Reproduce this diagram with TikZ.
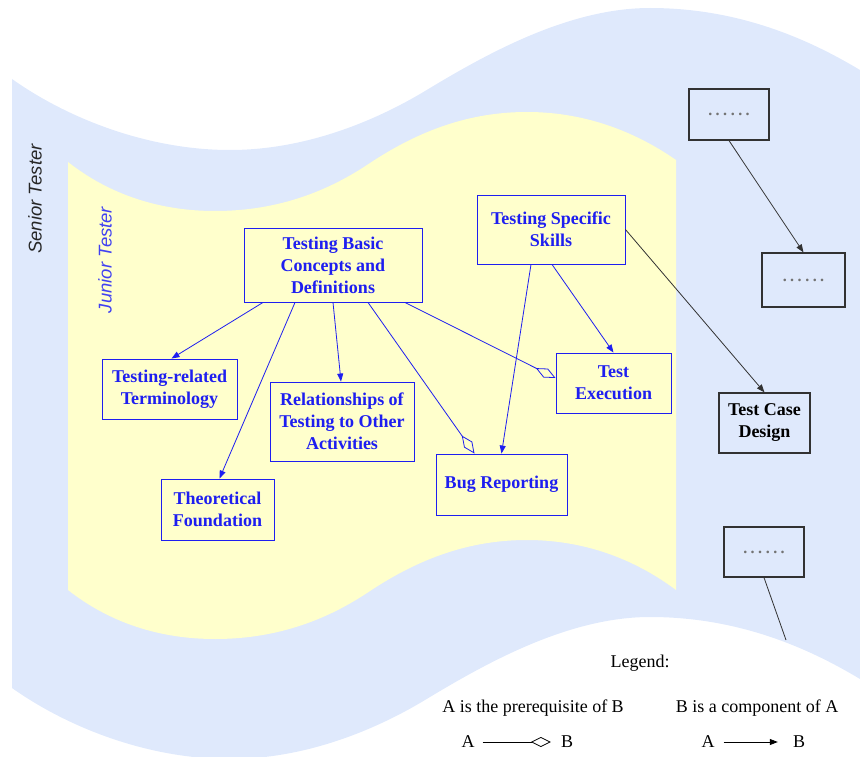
\documentclass[tikz,border=0pt]{standalone}
\usepackage{fontspec}
\setmainfont{Liberation Serif}
\setsansfont{Liberation Sans}
\usetikzlibrary{arrows.meta}
\definecolor{seniorbg}{RGB}{223,233,252}
\definecolor{juniorbg}{RGB}{255,255,204}
\definecolor{boxblue}{RGB}{30,30,240}
\definecolor{darkline}{RGB}{50,50,50}
\begin{document}
\begin{tikzpicture}[x=1pt,y=-1pt,
  bluebox/.style={draw=boxblue,line width=0.9pt,text=boxblue,font=\fontsize{18}{22}\selectfont\bfseries,align=center,inner sep=0pt},
  blackbox/.style={draw=darkline,line width=1.2pt,text=black,font=\fontsize{18}{22}\selectfont\bfseries,align=center,inner sep=0pt},
  dotbox/.style={draw=darkline,line width=1.2pt,text=black!55,font=\fontsize{16}{20}\selectfont\bfseries,inner sep=0pt},
  comp/.style={draw=boxblue,line width=0.8pt,-{Triangle[length=8pt,width=6pt]}},
  prereq/.style={draw=boxblue,line width=0.8pt,-{Diamond[open,length=22pt,width=10pt]}},
  blackcomp/.style={draw=darkline,line width=0.8pt,-{Triangle[length=8pt,width=6pt]}},
  legtext/.style={font=\fontsize{18}{22}\selectfont,inner sep=0pt}
]
\useasboundingbox (0,0) rectangle (860,757);
\clip (0,0) rectangle (860,757);
% Senior region
\fill[seniorbg] (12,79) .. controls (70,120) and (150,150) .. (230,150)
  .. controls (300,150) and (370,125) .. (430,88)
  .. controls (490,52) and (570,8) .. (650,8)
  .. controls (740,8) and (810,40) .. (860,70)
  -- (860,679)
  .. controls (810,649) and (740,617) .. (650,617)
  .. controls (570,617) and (490,661) .. (430,697)
  .. controls (370,734) and (300,759) .. (230,759)
  .. controls (150,759) and (70,729) .. (12,688) -- cycle;
% Junior region
\fill[juniorbg] (68,162) .. controls (110,195) and (160,211) .. (215,211)
  .. controls (280,211) and (330,190) .. (370,163)
  .. controls (420,130) and (470,112) .. (527,112)
  .. controls (590,112) and (640,135) .. (676,160)
  -- (676,590)
  .. controls (640,563) and (590,540) .. (527,540)
  .. controls (470,540) and (420,558) .. (370,591)
  .. controls (330,618) and (280,639) .. (215,639)
  .. controls (160,639) and (110,623) .. (68,590) -- cycle;
% region labels
\node[rotate=90,font=\sffamily\itshape\fontsize{18.5}{22}\selectfont,text=black!85] (senior) at (35,199) {Senior Tester};
\node[rotate=90,font=\sffamily\itshape\fontsize{18.5}{22}\selectfont,text=boxblue!85] (junior) at (105,260) {Junior Tester};
% blue boxes
\node[bluebox,minimum width=178pt,minimum height=74pt] (basic) at (333,265) {Testing Basic\\Concepts and\\Definitions};
\node[bluebox,minimum width=135pt,minimum height=60pt] (term) at (169.5,389) {Testing-related\\Terminology};
\node[bluebox,minimum width=144pt,minimum height=79pt] (rel) at (342,421.5) {Relationships of\\Testing to Other\\Activities};
\node[bluebox,minimum width=113pt,minimum height=61pt] (theo) at (217.5,509.5) {Theoretical\\Foundation};
\node[bluebox,minimum width=148pt,minimum height=69pt] (skills) at (551,229.5) {Testing Specific\\Skills};
\node[bluebox,minimum width=115pt,minimum height=60pt] (exec) at (613.5,383) {Test\\Execution};
\node[bluebox,minimum width=131pt,minimum height=61pt] (bug) at (501.5,484.5) {Bug Reporting};
% black boxes
\node[dotbox,minimum width=80pt,minimum height=51pt] (d1) at (729,114.5) {.\hspace{3.5pt}.\hspace{3.5pt}.\hspace{3.5pt}.\hspace{3.5pt}.\hspace{3.5pt}.};
\node[dotbox,minimum width=83pt,minimum height=54pt] (d2) at (803.5,280) {.\hspace{3.5pt}.\hspace{3.5pt}.\hspace{3.5pt}.\hspace{3.5pt}.\hspace{3.5pt}.};
\node[blackbox,minimum width=91pt,minimum height=60pt] (tcd) at (764.5,423) {Test Case\\Design};
\node[dotbox,minimum width=80pt,minimum height=50pt] (d3) at (764,552) {.\hspace{3.5pt}.\hspace{3.5pt}.\hspace{3.5pt}.\hspace{3.5pt}.\hspace{3.5pt}.};
\coordinate (d3end) at (786,640);
% connectors
\draw[comp] ([xshift=-70pt]basic.south) -- ([xshift=2pt]term.north);
\draw[comp] ([xshift=-38pt]basic.south) -- ([xshift=2pt]theo.north);
\draw[comp] (basic.south) -- ([xshift=-1pt]rel.north);
\draw[prereq] ([xshift=35pt]basic.south) -- ([xshift=-27pt]bug.north);
\draw[prereq] ([xshift=72pt]basic.south) -- ([yshift=5pt]exec.west);
\draw[comp] ([xshift=-20pt]skills.south) -- (bug.north);
\draw[comp] ([xshift=1pt]skills.south) -- (exec.north);
\draw[blackcomp] (skills.east) -- (tcd.north);
\draw[blackcomp] (d1.south) -- (d2.north);
\draw[darkline,line width=0.8pt] (d3.south) -- (d3end);
% legend
\node[legtext] (legend) at (640,663) {Legend:};
\node[legtext] (lp) at (533,708) {A is the prerequisite of B};
\node[legtext] (lc) at (757,708) {B is a component of A};
\node[legtext] (a1) at (468,742) {A};
\node[legtext] (b1) at (567,742) {B};
\node[legtext] (a2) at (708,742) {A};
\node[legtext] (b2) at (799,742) {B};
\draw[black,line width=0.8pt,-{Diamond[open,length=20pt,width=10pt]}] ([xshift=8pt]a1.east) -- ([xshift=-10pt]b1.west);
\draw[black,line width=0.8pt,-{Triangle[length=8pt,width=6pt]}] ([xshift=9pt]a2.east) -- ([xshift=-15pt]b2.west);
\end{tikzpicture}
\end{document}
